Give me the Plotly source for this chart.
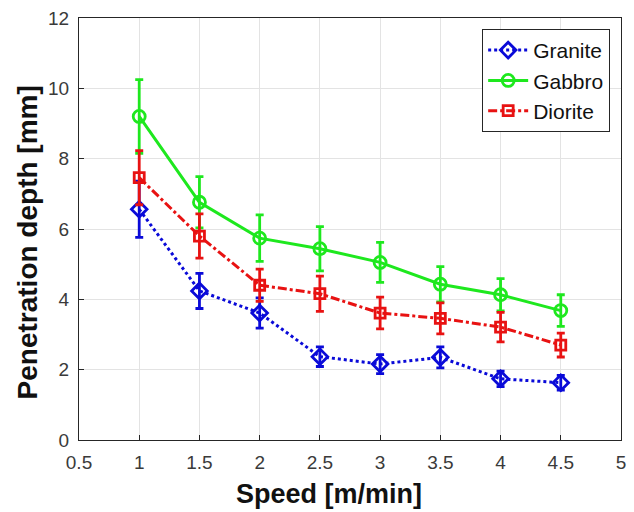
import plotly.graph_objects as go

# Cutting speed [m/min]
speed = [1.0, 1.5, 2.0, 2.5, 3.0, 3.5, 4.0, 4.5]

# Mean penetration depth [mm] and standard deviation per rock type
granite = [6.56, 4.24, 3.61, 2.37, 2.16, 2.35, 1.74, 1.63]
granite_err = [0.80, 0.50, 0.43, 0.28, 0.27, 0.30, 0.22, 0.21]

gabbro = [9.20, 6.76, 5.74, 5.44, 5.05, 4.43, 4.13, 3.68]
gabbro_err = [1.05, 0.73, 0.66, 0.63, 0.57, 0.50, 0.46, 0.45]

diorite = [7.46, 5.80, 4.40, 4.16, 3.61, 3.46, 3.21, 2.70]
diorite_err = [0.77, 0.63, 0.46, 0.50, 0.45, 0.44, 0.42, 0.34]

x_ticks = [0.5, 1, 1.5, 2, 2.5, 3, 3.5, 4, 4.5, 5]
x_tick_text = ["0.5", "1", "1.5", "2", "2.5", "3", "3.5", "4", "4.5", "5"]
y_ticks = [0, 2, 4, 6, 8, 10, 12]

x_title = "Speed [m/min]"
y_title = "Penetration depth [mm]"

FONT = "Liberation Sans, Arial, Helvetica, sans-serif"

series = [
    ("Granite", granite, granite_err, "#0a0ad8", "dot", "diamond-open", 12),
    ("Gabbro", gabbro, gabbro_err, "#1ee81e", "solid", "circle-open", 12),
    ("Diorite", diorite, diorite_err, "#e81212", "dashdot", "square-open", 10),
]

fig = go.Figure()
for name, y, err, color, dash, symbol, msize in series:
    fig.add_trace(go.Scatter(
        x=speed, y=y, name=name, mode="lines+markers",
        line=dict(color=color, width=3, dash=dash),
        marker=dict(symbol=symbol, size=msize, color=color,
                    line=dict(color=color, width=2.8)),
        error_y=dict(type="data", array=err, visible=True,
                     color=color, thickness=2.8, width=4),
    ))

axis_common = dict(
    showline=True, linecolor="#262626", linewidth=1.3, mirror=True,
    ticks="inside", ticklen=5, tickcolor="#262626",
    showgrid=True, gridcolor="#e3e3e3", gridwidth=1,
    zeroline=False,
    tickfont=dict(family=FONT, size=19, color="#3a3a3a"),
)

fig.update_xaxes(range=[0.5, 5], tickvals=x_ticks, ticktext=x_tick_text,
                 ticklabelstandoff=5, **axis_common)
fig.update_yaxes(range=[0, 12], tickvals=y_ticks,
                 ticklabelstandoff=5, **axis_common)

# Axis titles
fig.add_annotation(
    text="<b>%s</b>" % x_title, xref="paper", yref="paper",
    x=0.461, y=-0.128, xanchor="center", yanchor="middle", showarrow=False,
    font=dict(family=FONT, size=27, color="#111111"),
)
fig.add_annotation(
    text="<b>%s</b>" % y_title, xref="paper", yref="paper",
    x=-0.095, y=0.467, xanchor="center", yanchor="middle", showarrow=False,
    textangle=-90,
    font=dict(family=FONT, size=28, color="#111111"),
)

fig.update_layout(
    width=634, height=512,
    margin=dict(l=79, r=8, t=14, b=72),
    paper_bgcolor="white", plot_bgcolor="white",
    showlegend=True,
    legend=dict(
        x=0.98, y=0.974, xanchor="right", yanchor="top",
        bgcolor="white", bordercolor="#262626", borderwidth=1,
        font=dict(family=FONT, size=21, color="#111111"),
        itemwidth=40,
    ),
)

fig.write_html("out.html")
